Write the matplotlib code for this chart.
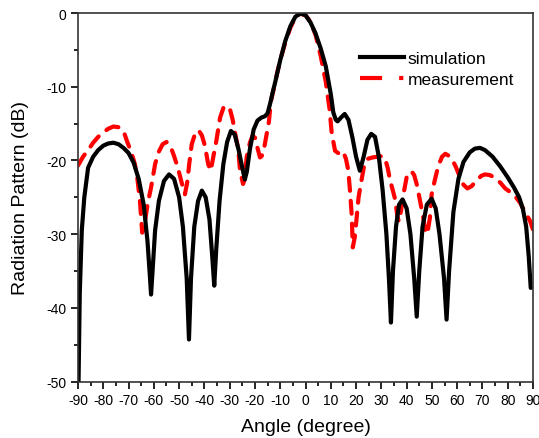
import matplotlib
matplotlib.use('Agg')
import matplotlib.pyplot as plt
from matplotlib.lines import Line2D
from matplotlib.ticker import MultipleLocator

plt.rcParams['font.family'] = ['Liberation Sans', 'DejaVu Sans']
plt.rcParams['axes.unicode_minus'] = False

# simulation (black solid)
sim_angle = [-89.8, -89.3, -88.5, -87.5, -86, -84, -82, -80, -78, -76, -74, -72, -70, -68,
             -66, -64, -62.5, -61.5, -61.1, -60.5, -59.5, -58, -56, -54, -52, -50, -48.5,
             -47, -46.1, -45.3, -44, -42.5, -41, -39.5, -38, -36.9, -36.1, -35.3, -34, -32.5,
             -31, -29.5, -28, -26.5, -25, -24, -23.2, -22, -20.5, -19, -17.5, -16, -15, -14,
             -13, -12, -10, -8, -6, -4, -2, 0, 2, 4, 6, 8, 10, 11, 12, 12.7, 14, 15.5, 17,
             18.5, 20, 21.5, 23, 24.5, 26, 27.5, 29, 30.5, 32, 33, 33.8, 34.6, 35.8, 37, 38.4,
             40, 41.5, 43, 44, 45, 46.3, 48, 49.9, 51.5, 53, 54.8, 55.8, 56.8, 58.5, 60.5,
             62.5, 65, 67, 69, 71, 74, 77, 80, 82.5, 84.5, 86, 87.3, 88.3, 89.1]
sim_db = [-50.5, -38, -29.5, -25, -21, -19.5, -18.6, -18.0, -17.7, -17.6, -17.8, -18.3, -19.0,
          -20.3, -22.5, -26, -31, -36, -38.2, -35, -29.5, -25.5, -22.8, -21.9, -22.5, -25, -29,
          -36, -44.3, -36, -29, -25.5, -24.1, -25.0, -28, -33, -37.0, -32, -25.5, -20.5,
          -17.5, -16.0, -16.5, -18.5, -21, -22.6, -21.5, -18.5, -15.8, -14.6, -14.2, -14.0,
          -13.6, -12.3, -10.8, -9.4, -6.4, -3.8, -1.8, -0.5, -0.05, -0.3, -1.3, -2.8, -4.8,
          -7.2, -11, -13.5, -14.5, -14.7, -14.2, -13.7, -14.5, -16.8, -19.5, -21.4, -19.5,
          -17.2, -16.4, -16.8, -19.5, -24, -30, -36, -42, -35, -29, -26, -25.3, -26.5, -30,
          -36, -41.2, -35, -29, -26, -25.2, -26.5, -30, -36, -41.6, -35, -27, -22.5, -20.2,
          -18.9, -18.4, -18.3, -18.6, -19.5, -20.8, -22.3, -23.7, -25, -26.6, -29, -33, -37.3]

# measurement (red dashed)
meas_angle = [-90, -88, -86, -84, -82, -80, -78, -76, -74, -72, -70.5, -69, -67.5, -66.5,
              -65.5, -64.6, -63.8, -62.5, -61, -59.5, -58, -56.5, -55, -53.5, -52, -50.5, -49,
              -47.7, -46.8, -46, -45, -43.7, -42.3, -41, -39.8, -38.5, -37.5, -36.5, -35.2,
              -33.8, -32.5, -31.3, -30, -28.8, -27.9, -26.6, -25.9, -24.7, -24, -23.3, -22,
              -21, -20, -19, -18, -17.3, -16.3, -15.4, -14.5, -13.7, -12.5, -11, -9.5, -8, -6,
              -4, -2, 0, 2, 4, 6, 8, 9.5, 10.4, 11.7, 13.3, 14.9, 16, 16.9, 17.6, 18.3, 18.7,
              19.5, 20.3, 21, 22.2, 23.3, 24.5, 26.5, 28.5, 30.5, 31.5, 32.5, 33.4, 34.5, 35.4,
              36.3, 36.9, 37.8, 38.8, 40, 41.2, 42, 43, 44.2, 45.3, 46.6, 47.6, 48.4, 49.2,
              49.9, 51.2, 52.5, 54, 55.3, 56.8, 58.2, 59.5, 61, 62.5, 64, 65.7, 67.5, 69.5, 71,
              73, 75, 77, 79, 81, 83, 85, 86.8, 88.8, 90]
meas_db = [-20.7, -19.5, -18.6, -17.6, -16.8, -16.2, -15.7, -15.4, -15.5, -16.0, -17.5, -18.8,
           -20.5, -22.5, -25.5, -29.8, -29, -26, -23.5, -20.5, -18.8, -17.8, -17.5, -18.0,
           -19.4, -21.0, -23.0, -24.6, -23, -20.5, -17.8, -16.4, -15.9, -16.6, -18.0, -20.5,
           -21.4, -19.6, -17.2, -14.2, -12.9, -12.6, -12.9, -14.5, -16.2, -18.5, -21.4, -23.2,
           -22.5, -19.6, -17.6, -16.7, -16.9, -18.3, -19.6, -19.4, -18.2, -16.5, -14.8, -12.0,
           -10.2, -7.8, -5.8, -4.0, -2.0, -0.6, -0.1, -0.3, -1.2, -3.0, -5.8, -9.3, -13.0,
           -16.4, -18.7, -19.1, -18.8, -19.8, -21.3, -24.1, -27.5, -31.8, -30.4, -27.5, -25.0,
           -22.6, -20.5, -19.8, -19.6, -19.5, -19.4, -19.8, -21.0, -22.6, -24.0, -25.2, -27.5,
           -28.3, -26.8, -24.5, -22.3, -21.6, -21.5, -22.0, -23.5, -25.5, -27.8, -30.0, -29.5,
           -27.8, -24.6, -22.6, -20.8, -19.5, -19.1, -19.4, -20.0, -20.9, -22.2, -23.3, -23.8,
           -23.5, -22.8, -22.1, -21.9, -22.0, -22.4, -23.0, -23.8, -24.3, -24.9, -25.8, -27.0,
           -28.2, -29.4]

fig = plt.figure(figsize=(5.39, 4.39), dpi=100)
ax = fig.add_axes([0.1447, 0.1287, 0.8442, 0.8394])

ax.plot(meas_angle, meas_db, color='#ff0000', lw=3, dashes=(3.1, 2.4),
        dash_capstyle='round', solid_capstyle='round')
ax.plot(sim_angle, sim_db, color='black', lw=3, solid_capstyle='round')

ax.set_xlim(-90, 90)
ax.set_ylim(-50, 0)
ax.xaxis.set_major_locator(MultipleLocator(10))
ax.xaxis.set_minor_locator(MultipleLocator(5))
ax.yaxis.set_major_locator(MultipleLocator(10))
ax.yaxis.set_minor_locator(MultipleLocator(5))
ax.tick_params(which='both', direction='out', top=False, right=False, width=1.2,
               labelsize=10, colors='black')
ax.tick_params(which='major', length=5)
ax.tick_params(which='minor', length=3)
for s in ax.spines.values():
    s.set_linewidth(1.2)
    s.set_color('#333333')

ax.set_xlabel('Angle (degree)', fontsize=14, labelpad=8)
ax.set_ylabel('Radiation Pattern (dB)', fontsize=14, labelpad=12)

handles = [Line2D([], [], color='black', lw=3),
           Line2D([], [], color='#ff0000', lw=3, dashes=(5.3, 4.1, 1.0, 10))]
ax.legend(handles, ['simulation', 'measurement'], loc='upper left',
          bbox_to_anchor=(0.62, 0.898), frameon=False, fontsize=12.5,
          handlelength=2.5, handletextpad=0.25, labelspacing=0.38, borderpad=0,
          borderaxespad=0)

fig.savefig('out.png', dpi=100)
